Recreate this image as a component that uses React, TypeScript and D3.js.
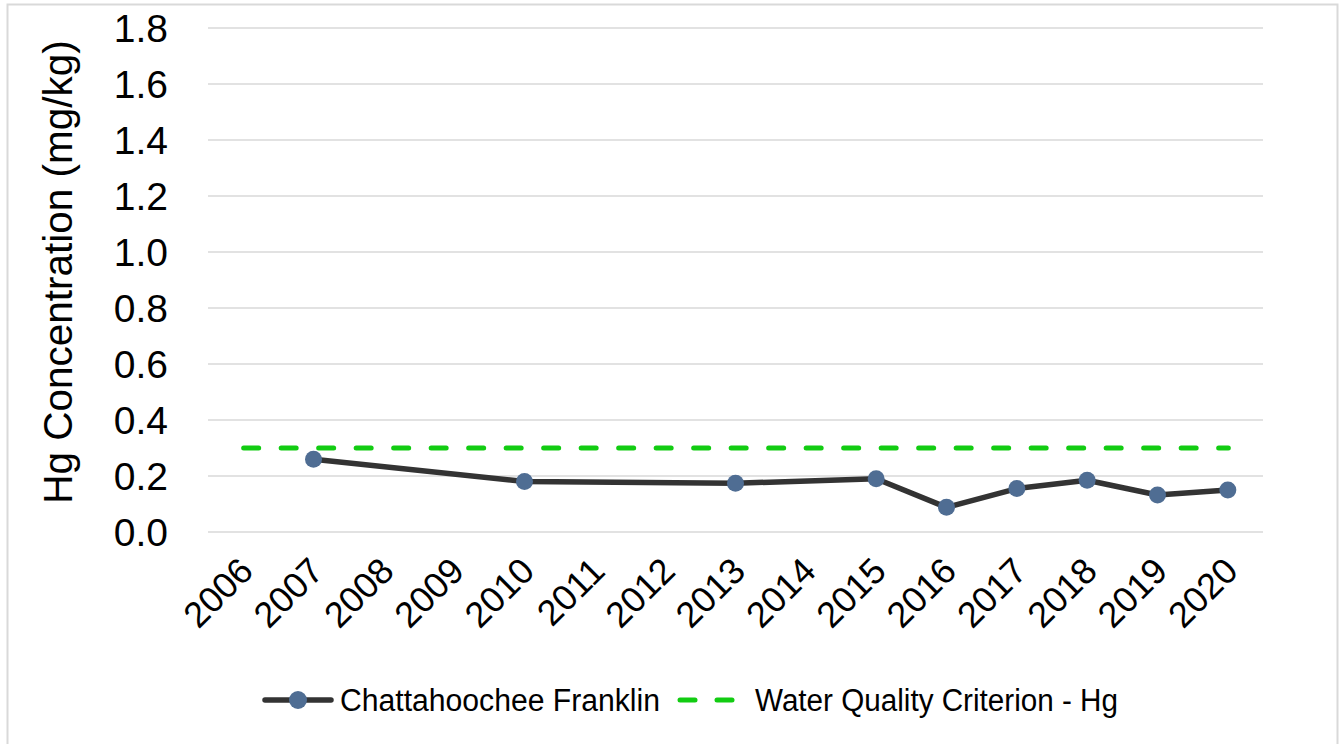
import React from "react";
import * as d3 from "d3";

const years = ["2006","2007","2008","2009","2010","2011","2012","2013","2014","2015","2016","2017","2018","2019","2020"];
const franklinYears = ["2007","2010","2013","2015","2016","2017","2018","2019","2020"];
const franklinValues = [0.26, 0.18, 0.174, 0.19, 0.088, 0.155, 0.185, 0.132, 0.15];
const criterionValues = years.map(() => 0.3);
const yTicks = [0, 0.2, 0.4, 0.6, 0.8, 1.0, 1.2, 1.4, 1.6, 1.8];
const seriesNames = ["Chattahoochee Franklin", "Water Quality Criterion - Hg"];

const W = 1344, H = 744;
const plot = { left: 208, right: 1263, top: 28, bottom: 532 };

export default function App() {
  const x = d3.scaleBand().domain(years).range([plot.left, plot.right]).padding(0);
  const cx = (yr: string) => (x(yr) as number) + x.bandwidth() / 2;
  const y = d3.scaleLinear().domain([0, 1.8]).range([plot.bottom, plot.top]);

  const franklin = franklinYears.map((yr, i) => ({ yr, v: franklinValues[i] }));
  const crit = years.map((yr, i) => ({ yr, v: criterionValues[i] }));
  const line = d3.line<{ yr: string; v: number }>().x(d => cx(d.yr)).y(d => y(d.v));

  const axisFont = "'Liberation Sans', Arial, sans-serif";
  const legendFont = "'Liberation Sans Narrow', 'Arial Narrow', 'Liberation Sans', sans-serif";

  return (
    <svg width={W} height={H} style={{ position: "fixed", left: 0, top: 0, background: "#fff" }}>
      <rect x={7.5} y={4.5} width={1330} height={760} fill="#fff" stroke="#d9d9d9" strokeWidth={2} />
      {yTicks.map(t => (
        <g key={t}>
          <line x1={plot.left} x2={plot.right} y1={y(t)} y2={y(t)} stroke="#d9d9d9" strokeWidth={1.5} />
          <text x={168} y={y(t)} dy="0.36em" textAnchor="end" fontFamily={axisFont} fontSize={39} fill="#000">
            {d3.format(".1f")(t)}
          </text>
        </g>
      ))}
      <text
        transform={`translate(72,${(plot.top + plot.bottom) / 2 - 8}) rotate(-90)`}
        textAnchor="middle"
        fontFamily={axisFont}
        fontSize={40.5}
        fill="#000"
      >
        Hg Concentration (mg/kg)
      </text>
      {years.map(yr => (
        <text
          key={yr}
          transform={`translate(${cx(yr) + 12},${573}) rotate(-45)`}
          textAnchor="end"
          fontFamily={axisFont}
          fontSize={36}
          fill="#000"
        >
          {yr}
        </text>
      ))}
      <path
        d={line(crit) || ""}
        fill="none"
        stroke="#12cc12"
        strokeWidth={5}
        strokeDasharray="15 22.5"
        strokeLinecap="round"
        transform="translate(0.5,0)"
      />
      <path d={line(franklin) || ""} fill="none" stroke="#333333" strokeWidth={5.5} strokeLinejoin="round" />
      {franklin.map(d => (
        <circle key={d.yr} cx={cx(d.yr)} cy={y(d.v)} r={8.5} fill="#4f6d93" />
      ))}
      {/* Legend */}
      <g>
        <line x1={265} x2={331} y1={700} y2={700} stroke="#333333" strokeWidth={5.5} strokeLinecap="round" />
        <circle cx={298} cy={700} r={9} fill="#4f6d93" />
        <text x={340} y={711} fontFamily={legendFont} fontSize={31} textLength={320} lengthAdjust="spacingAndGlyphs" fill="#000">
          {seriesNames[0]}
        </text>
        <line x1={680} x2={695} y1={700} y2={700} stroke="#12cc12" strokeWidth={5} strokeLinecap="round" />
        <line x1={717} x2={732} y1={700} y2={700} stroke="#12cc12" strokeWidth={5} strokeLinecap="round" />
        <text x={755} y={711} fontFamily={legendFont} fontSize={31} textLength={363} lengthAdjust="spacingAndGlyphs" fill="#000">
          {seriesNames[1]}
        </text>
      </g>
    </svg>
  );
}
